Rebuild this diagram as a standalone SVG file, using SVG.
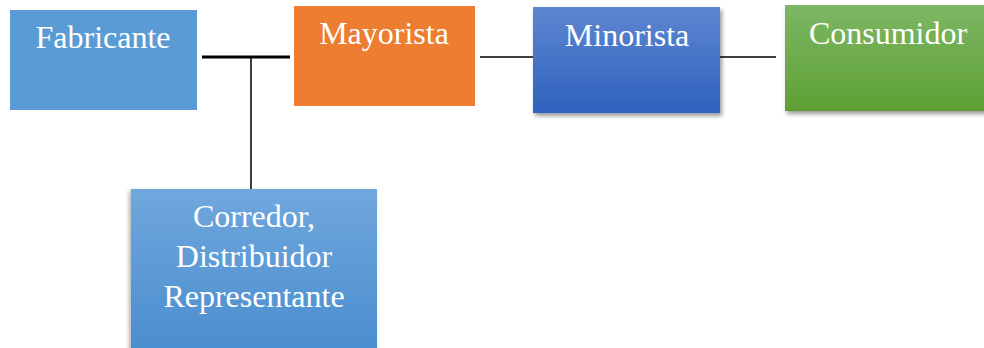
<svg xmlns="http://www.w3.org/2000/svg" width="984" height="348" viewBox="0 0 984 348">
  <defs>
    <linearGradient id="gBlue" x1="0" y1="0" x2="0" y2="1">
      <stop offset="0" stop-color="#5E86D1"/>
      <stop offset="1" stop-color="#2E62BD"/>
    </linearGradient>
    <linearGradient id="gGreen" x1="0" y1="0" x2="0" y2="1">
      <stop offset="0" stop-color="#7DB764"/>
      <stop offset="1" stop-color="#5EA034"/>
    </linearGradient>
    <linearGradient id="gSky" x1="0" y1="0" x2="0" y2="1">
      <stop offset="0" stop-color="#70A7DD"/>
      <stop offset="1" stop-color="#4A8DCE"/>
    </linearGradient>
    <filter id="shadow" x="-10%" y="-10%" width="125%" height="130%">
      <feDropShadow dx="2" dy="3" stdDeviation="2" flood-color="#000" flood-opacity="0.4"/>
    </filter>
    <filter id="shadowL" x="-10%" y="-10%" width="125%" height="130%">
      <feDropShadow dx="-2" dy="2" stdDeviation="2" flood-color="#000" flood-opacity="0.3"/>
    </filter>
  </defs>
  <style>
    .lbl { font-family: "Liberation Serif", "Times New Roman", serif; font-size: 32px; fill: #FFFFFF; text-anchor: middle; }
    .line { stroke: #000; fill: none; }
  </style>

  <!-- connectors -->
  <g id="connectors">
    <line class="line" x1="202" y1="57" x2="290" y2="57" stroke-width="3"/>
    <line class="line" x1="251" y1="57" x2="251" y2="189" stroke-width="1.5"/>
    <line class="line" x1="480" y1="57" x2="533" y2="57" stroke-width="1.3"/>
    <line class="line" x1="720" y1="57" x2="776" y2="57" stroke-width="1.3"/>
  </g>

  <g id="fabricante">
    <rect x="10" y="10" width="187" height="100" fill="#5B9BD5"/>
    <text class="lbl" x="103" y="48">Fabricante</text>
  </g>

  <g id="mayorista">
    <rect x="294" y="6" width="181" height="100" fill="#ED7D31"/>
    <text class="lbl" x="384" y="44">Mayorista</text>
  </g>

  <g id="minorista">
    <rect x="533" y="7" width="187" height="106" fill="url(#gBlue)" filter="url(#shadow)"/>
    <text class="lbl" x="627" y="46">Minorista</text>
  </g>

  <g id="consumidor">
    <rect x="785" y="5" width="205" height="106" fill="url(#gGreen)" filter="url(#shadow)"/>
    <text class="lbl" x="888" y="44">Consumidor</text>
  </g>

  <g id="corredor">
    <rect x="131" y="189" width="246" height="165" fill="url(#gSky)" filter="url(#shadowL)"/>
    <text class="lbl" x="254" y="227">Corredor,</text>
    <text class="lbl" x="254" y="267">Distribuidor</text>
    <text class="lbl" x="254" y="307">Representante</text>
  </g>
</svg>
